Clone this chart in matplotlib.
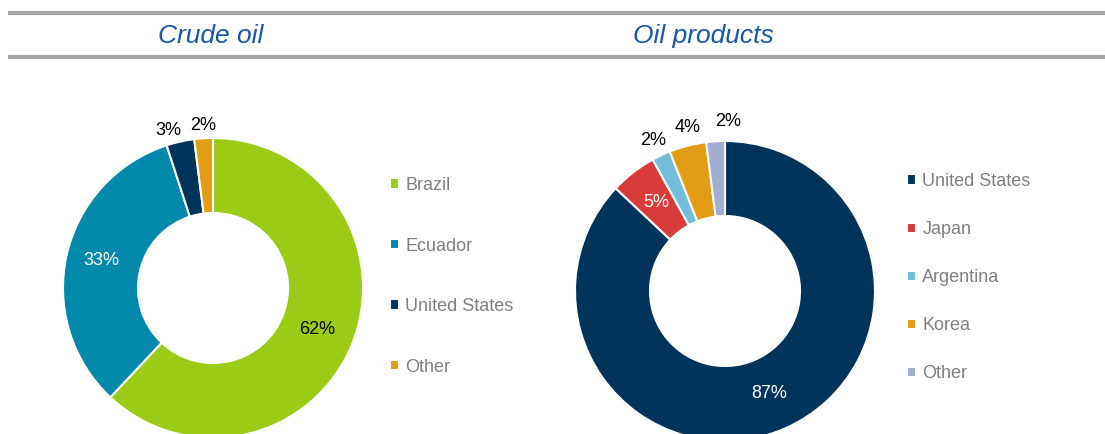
import matplotlib
matplotlib.use("Agg")
import matplotlib.pyplot as plt
import numpy as np

plt.rcParams["font.family"] = ["Liberation Sans", "DejaVu Sans"]

crude_labels = ["Brazil", "Ecuador", "United States", "Other"]
crude_values = [62, 33, 3, 2]
crude_colors = ["#9BCB17", "#0089AA", "#01345B", "#E29C16"]

prod_labels = ["United States", "Japan", "Argentina", "Korea", "Other"]
prod_values = [87, 5, 2, 4, 2]
prod_colors = ["#01345B", "#D83B3A", "#72BEDA", "#E29C16", "#A2ABD0"]

W, H = 1105, 434
fig = plt.figure(figsize=(W / 100, H / 100), dpi=100)
ax = fig.add_axes([0, 0, 1, 1])


def donut(values, colors, center, inside_color, nudges):
    wedges, _ = ax.pie(values, colors=colors, center=center, radius=150,
                       startangle=90, counterclock=False,
                       wedgeprops=dict(width=75, edgecolor="white", linewidth=1.5))
    for i, (w, v) in enumerate(zip(wedges, values)):
        mid = np.deg2rad((w.theta1 + w.theta2) / 2)
        if v >= 5:
            r, col = 112, inside_color[v]
        else:
            r, col = 163, "black"
        dx, dy = nudges.get(i, (0, 0))
        ax.text(center[0] + r * np.cos(mid) + dx, center[1] + r * np.sin(mid) + dy,
                f"{v}%", ha="center", va="center", fontsize=13, color=col)
    return wedges


crude_w = donut(crude_values, crude_colors, (213, H - 288),
                {62: "black", 33: "white"}, {1: (-2, 3), 2: (-9, -2)})
prod_w = donut(prod_values, prod_colors, (725, H - 291),
               {87: "white", 5: "white"}, {2: (-2, 3), 3: (3, 6), 4: (13, 7)})

ax.set_xlim(0, W)
ax.set_ylim(0, H)
ax.set_aspect("auto")
ax.axis("off")

# header rules and titles
for y in (H - 13, H - 57):
    ax.plot([8, W], [y, y], color="#A5A5A5", lw=3, solid_capstyle="butt")
ax.text(211, H - 36, "Crude oil", ha="center", va="center", fontsize=19,
        style="italic", color="#1A56A6")
ax.text(703, H - 36, "Oil products", ha="center", va="center", fontsize=19,
        style="italic", color="#1A56A6")

leg_kw = dict(frameon=False, fontsize=13, handlelength=0.5, handleheight=0.5,
              handletextpad=0.35, borderpad=0, borderaxespad=0,
              labelcolor="#7F7F7F", loc="upper left")
fig.legend(crude_w, crude_labels, bbox_to_anchor=(390 / W, 1 - 177 / H),
           labelspacing=2.41, **leg_kw)
fig.legend(prod_w, prod_labels, bbox_to_anchor=(907 / W, 1 - 173 / H),
           labelspacing=1.72, **leg_kw)

fig.savefig("out.png", dpi=100)
